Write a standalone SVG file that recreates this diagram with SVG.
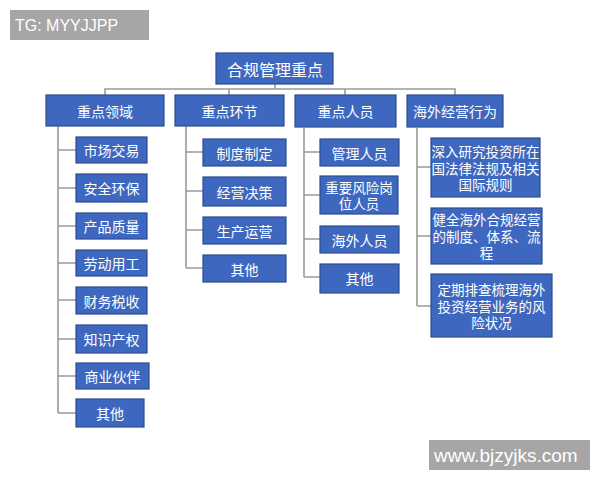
<svg xmlns="http://www.w3.org/2000/svg" width="600" height="480" viewBox="0 0 600 480">
<style>
.b{fill:#3e68c0;stroke:#2c4c8e;stroke-width:1.2}
.t{fill:#fff;font-family:"Noto Sans CJK SC","Liberation Sans",sans-serif;font-size:14px;text-anchor:middle;dominant-baseline:central}
.m{font-size:13.5px}
.r{font-size:16px}
.c{fill:none;stroke:#9a9a9a;stroke-width:1.6}
.wm{fill:#a6a6a6}
.wt{fill:#fff;font-family:"Liberation Sans",Arial,sans-serif;font-size:16px;dominant-baseline:central}
.wb{font-size:19px}
</style>
<rect width="600" height="480" fill="#fff"/>
<g id="connectors">
<path class="c" d="M275 84V89M105 95V89H455V95M229 89V95M345 89V95"/>
<path class="c" d="M58 126V413M58 150H76M58 188H76M58 226H76M58 263H76M58 300H76M58 339H76M58 376H76M58 413H76"/>
<path class="c" d="M186 126V268M186 152H203M186 191H203M186 230H203M186 268H203"/>
<path class="c" d="M304 128V277M304 152H320M304 195H320M304 239H320M304 277H320"/>
<path class="c" d="M417 128V306M417 167H431M417 236H431M417 306H431"/>
</g>
<g id="root"><rect class="b" x="216" y="53" width="117" height="31"/><text class="t r" x="275" y="68.5">合规管理重点</text></g>
<g id="n1"><rect class="b" x="46" y="95" width="118" height="31"/><text class="t" x="105" y="110.5">重点领域</text></g>
<g id="n2"><rect class="b" x="175" y="95" width="109" height="31"/><text class="t" x="229.5" y="110.5">重点环节</text></g>
<g id="n3"><rect class="b" x="295" y="95" width="101" height="32"/><text class="t" x="345.5" y="111">重点人员</text></g>
<g id="n4"><rect class="b" x="407" y="95" width="96" height="32"/><text class="t" x="455" y="111">海外经营行为</text></g>
<g id="a1"><rect class="b" x="76" y="137" width="71" height="26"/><text class="t" x="111.5" y="150">市场交易</text></g>
<g id="a2"><rect class="b" x="76" y="174" width="71" height="28"/><text class="t" x="111.5" y="188">安全环保</text></g>
<g id="a3"><rect class="b" x="76" y="213" width="71" height="26"/><text class="t" x="111.5" y="226">产品质量</text></g>
<g id="a4"><rect class="b" x="76" y="250" width="71" height="26"/><text class="t" x="111.5" y="263">劳动用工</text></g>
<g id="a5"><rect class="b" x="76" y="287" width="71" height="27"/><text class="t" x="111.5" y="300.5">财务税收</text></g>
<g id="a6"><rect class="b" x="76" y="325" width="71" height="28"/><text class="t" x="111.5" y="339">知识产权</text></g>
<g id="a7"><rect class="b" x="76" y="363" width="73" height="26"/><text class="t" x="112.5" y="376">商业伙伴</text></g>
<g id="a8"><rect class="b" x="76" y="399" width="68" height="28"/><text class="t" x="110" y="413">其他</text></g>
<g id="b1"><rect class="b" x="203" y="139" width="83" height="27"/><text class="t" x="244.5" y="152.5">制度制定</text></g>
<g id="b2"><rect class="b" x="203" y="177" width="83" height="29"/><text class="t" x="244.5" y="191.5">经营决策</text></g>
<g id="b3"><rect class="b" x="203" y="217" width="83" height="27"/><text class="t" x="244.5" y="230.5">生产运营</text></g>
<g id="b4"><rect class="b" x="203" y="255" width="83" height="27"/><text class="t" x="244.5" y="268.5">其他</text></g>
<g id="c1"><rect class="b" x="320" y="139" width="79" height="27"/><text class="t" x="359.5" y="152.5">管理人员</text></g>
<g id="c2"><rect class="b" x="320" y="176" width="78" height="38"/><text class="t m" x="359" y="187">重要风险岗<tspan x="359" dy="16">位人员</tspan></text></g>
<g id="c3"><rect class="b" x="320" y="226" width="79" height="27"/><text class="t" x="359.5" y="239.5">海外人员</text></g>
<g id="c4"><rect class="b" x="320" y="264" width="79" height="29"/><text class="t" x="359.5" y="277.5">其他</text></g>
<g id="d1"><rect class="b" x="431" y="138" width="109" height="59"/><text class="t m" x="485.5" y="151">深入研究投资所在<tspan x="485.5" dy="16.5">国法律法规及相关</tspan><tspan x="485.5" dy="16.5">国际规则</tspan></text></g>
<g id="d2"><rect class="b" x="431" y="208" width="111" height="56"/><text class="t m" x="486.5" y="219">健全海外合规经营<tspan x="486.5" dy="16.5">的制度、体系、流</tspan><tspan x="486.5" dy="16.5">程</tspan></text></g>
<g id="d3"><rect class="b" x="431" y="274" width="121" height="63"/><text class="t m" x="491.5" y="289">定期排查梳理海外<tspan x="491.5" dy="16.5">投资经营业务的风</tspan><tspan x="491.5" dy="16.5">险状况</tspan></text></g>
<g id="wm1"><rect class="wm" x="10" y="10" width="139" height="30"/><text class="wt" x="15" y="25">TG: MYYJJPP</text></g>
<g id="wm2"><rect class="wm" x="429" y="440" width="161" height="30"/><text class="wt wb" x="434" y="455">www.bjzyjks.com</text></g>
</svg>
